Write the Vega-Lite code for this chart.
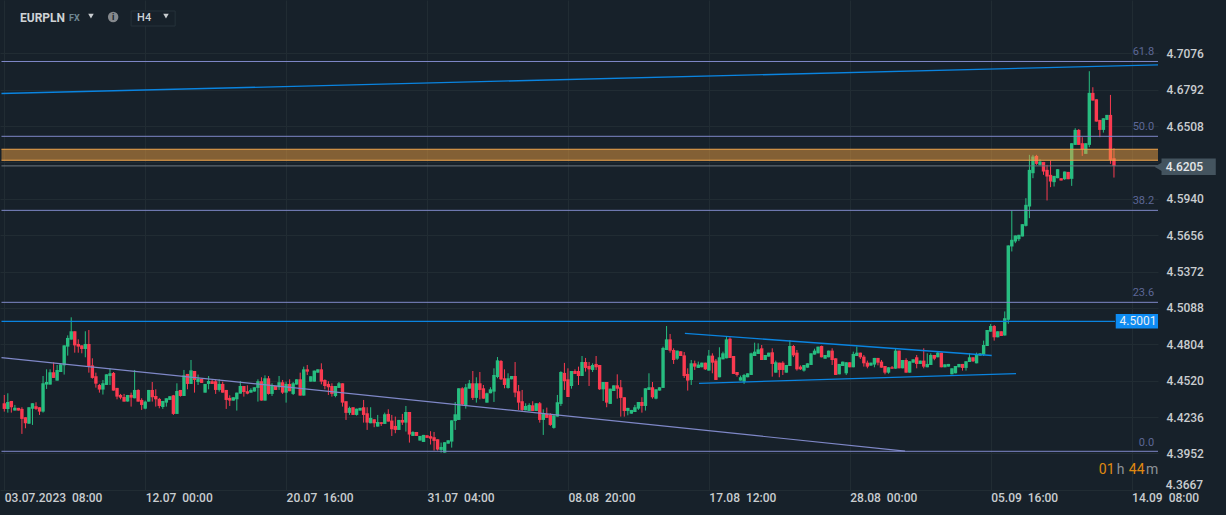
{"$schema":"https://vega.github.io/schema/vega-lite/v6.json","width":1158,"height":490,"padding":{"left":0,"top":0,"right":68,"bottom":25},"autosize":{"type":"none"},"background":"#17212a","config":{"view":{"stroke":null},"font":"Roboto"},
"datasets":{"candles":[
{"i":0,"o":4.4344,"h":4.4409,"l":4.4279,"c":4.43},{"i":1,"o":4.43,"h":4.4422,"l":4.4271,"c":4.4354},{"i":2,"o":4.4362,"h":4.4362,"l":4.4271,"c":4.4313},{"i":3,"o":4.4287,"h":4.4331,"l":4.4287,"c":4.431},{"i":4,"o":4.4308,"h":4.4308,"l":4.4287,"c":4.4287},{"i":5,"o":4.43,"h":4.4313,"l":4.4105,"c":4.4222},{"i":6,"o":4.4235,"h":4.4235,"l":4.4149,"c":4.4188},{"i":7,"o":4.4185,"h":4.4313,"l":4.4183,"c":4.4313},{"i":8,"o":4.4302,"h":4.4344,"l":4.4175,"c":4.4344},{"i":9,"o":4.4321,"h":4.4352,"l":4.4292,"c":4.43},
{"i":10,"o":4.4313,"h":4.4313,"l":4.4253,"c":4.4279},{"i":11,"o":4.4279,"h":4.4557,"l":4.4271,"c":4.45},{"i":12,"o":4.449,"h":4.4609,"l":4.4456,"c":4.451},{"i":13,"o":4.449,"h":4.4609,"l":4.449,"c":4.4586},{"i":14,"o":4.4586,"h":4.4664,"l":4.4542,"c":4.4542},{"i":15,"o":4.4521,"h":4.4643,"l":4.4521,"c":4.4604},{"i":16,"o":4.4588,"h":4.4656,"l":4.4588,"c":4.4648},{"i":17,"o":4.464,"h":4.4796,"l":4.4568,"c":4.4796},{"i":18,"o":4.4786,"h":4.4874,"l":4.4716,"c":4.4854},{"i":19,"o":4.4841,"h":4.5015,"l":4.4841,"c":4.4906},
{"i":20,"o":4.4906,"h":4.4906,"l":4.4739,"c":4.4796},{"i":21,"o":4.4807,"h":4.4843,"l":4.4739,"c":4.4786},{"i":22,"o":4.4796,"h":4.4796,"l":4.4734,"c":4.4768},{"i":23,"o":4.4768,"h":4.4906,"l":4.4703,"c":4.4807},{"i":24,"o":4.4807,"h":4.4916,"l":4.4583,"c":4.4635},{"i":25,"o":4.464,"h":4.4695,"l":4.4536,"c":4.4542},{"i":26,"o":4.4555,"h":4.4583,"l":4.4466,"c":4.4497},{"i":27,"o":4.4487,"h":4.4495,"l":4.4427,"c":4.4451},{"i":28,"o":4.4451,"h":4.4526,"l":4.4412,"c":4.45},{"i":29,"o":4.4487,"h":4.457,"l":4.4487,"c":4.457},
{"i":30,"o":4.4557,"h":4.4617,"l":4.4487,"c":4.4578},{"i":31,"o":4.4581,"h":4.4588,"l":4.4443,"c":4.4443},{"i":32,"o":4.4464,"h":4.4464,"l":4.4375,"c":4.4396},{"i":33,"o":4.4409,"h":4.4417,"l":4.4375,"c":4.4388},{"i":34,"o":4.4393,"h":4.4417,"l":4.4357,"c":4.4357},{"i":35,"o":4.4357,"h":4.4409,"l":4.4357,"c":4.4409},{"i":36,"o":4.4409,"h":4.4427,"l":4.4318,"c":4.4388},{"i":37,"o":4.4383,"h":4.4604,"l":4.4383,"c":4.4448},{"i":38,"o":4.4448,"h":4.4453,"l":4.4357,"c":4.4357},{"i":39,"o":4.437,"h":4.4383,"l":4.4292,"c":4.4331},
{"i":40,"o":4.4302,"h":4.4365,"l":4.4297,"c":4.4357},{"i":41,"o":4.4357,"h":4.4448,"l":4.4357,"c":4.4448},{"i":42,"o":4.4448,"h":4.451,"l":4.4357,"c":4.4391},{"i":43,"o":4.4401,"h":4.4453,"l":4.4318,"c":4.4375},{"i":44,"o":4.4378,"h":4.4386,"l":4.4305,"c":4.4323},{"i":45,"o":4.4315,"h":4.4362,"l":4.43,"c":4.4362},{"i":46,"o":4.4349,"h":4.4383,"l":4.4318,"c":4.4383},{"i":47,"o":4.437,"h":4.4399,"l":4.437,"c":4.4399},{"i":48,"o":4.4406,"h":4.4409,"l":4.4253,"c":4.4261},{"i":49,"o":4.4261,"h":4.45,"l":4.4261,"c":4.444},
{"i":50,"o":4.4448,"h":4.4448,"l":4.4396,"c":4.4401},{"i":51,"o":4.4401,"h":4.4604,"l":4.4401,"c":4.4562},{"i":52,"o":4.4573,"h":4.4573,"l":4.4453,"c":4.4495},{"i":53,"o":4.4495,"h":4.4682,"l":4.4495,"c":4.4601},{"i":54,"o":4.4596,"h":4.4596,"l":4.4427,"c":4.4526},{"i":55,"o":4.451,"h":4.4568,"l":4.4487,"c":4.4536},{"i":56,"o":4.4534,"h":4.4534,"l":4.4503,"c":4.4503},{"i":57,"o":4.4427,"h":4.4495,"l":4.4427,"c":4.4495},{"i":58,"o":4.4495,"h":4.4557,"l":4.4453,"c":4.4518},{"i":59,"o":4.4516,"h":4.4526,"l":4.4495,"c":4.4495},
{"i":60,"o":4.4516,"h":4.4531,"l":4.4417,"c":4.4448},{"i":61,"o":4.4448,"h":4.4531,"l":4.4435,"c":4.4495},{"i":62,"o":4.4495,"h":4.4513,"l":4.4427,"c":4.4427},{"i":63,"o":4.4448,"h":4.4448,"l":4.43,"c":4.437},{"i":64,"o":4.4386,"h":4.4406,"l":4.4323,"c":4.4365},{"i":65,"o":4.4365,"h":4.4391,"l":4.4365,"c":4.4391},{"i":66,"o":4.4375,"h":4.4427,"l":4.4287,"c":4.4427},{"i":67,"o":4.4419,"h":4.4518,"l":4.4419,"c":4.4479},{"i":68,"o":4.4479,"h":4.4479,"l":4.4396,"c":4.4432},{"i":69,"o":4.4438,"h":4.4484,"l":4.4414,"c":4.4419},
{"i":70,"o":4.4427,"h":4.4461,"l":4.4427,"c":4.4448},{"i":71,"o":4.4435,"h":4.4469,"l":4.4435,"c":4.4469},{"i":72,"o":4.4464,"h":4.4531,"l":4.4357,"c":4.4516},{"i":73,"o":4.4516,"h":4.4547,"l":4.4365,"c":4.4365},{"i":74,"o":4.4365,"h":4.4562,"l":4.4365,"c":4.4539},{"i":75,"o":4.4539,"h":4.4557,"l":4.4412,"c":4.4417},{"i":76,"o":4.4417,"h":4.45,"l":4.4401,"c":4.4484},{"i":77,"o":4.4479,"h":4.4479,"l":4.4448,"c":4.4448},{"i":78,"o":4.4469,"h":4.4557,"l":4.4448,"c":4.4508},{"i":79,"o":4.4508,"h":4.4526,"l":4.4417,"c":4.4427},
{"i":80,"o":4.4427,"h":4.4513,"l":4.4349,"c":4.4495},{"i":81,"o":4.4495,"h":4.4531,"l":4.4438,"c":4.4438},{"i":82,"o":4.4417,"h":4.451,"l":4.4409,"c":4.45},{"i":83,"o":4.449,"h":4.4531,"l":4.449,"c":4.4531},{"i":84,"o":4.4531,"h":4.4583,"l":4.4404,"c":4.4404},{"i":85,"o":4.4404,"h":4.463,"l":4.4404,"c":4.4609},{"i":86,"o":4.4609,"h":4.4643,"l":4.4565,"c":4.4591},{"i":87,"o":4.4513,"h":4.4555,"l":4.4513,"c":4.4555},{"i":88,"o":4.4513,"h":4.4599,"l":4.4513,"c":4.4599},{"i":89,"o":4.4583,"h":4.4609,"l":4.4583,"c":4.4609},
{"i":90,"o":4.4609,"h":4.4656,"l":4.4492,"c":4.4513},{"i":91,"o":4.4526,"h":4.4531,"l":4.4453,"c":4.4479},{"i":92,"o":4.4495,"h":4.4516,"l":4.4409,"c":4.4469},{"i":93,"o":4.4479,"h":4.45,"l":4.4396,"c":4.4417},{"i":94,"o":4.4401,"h":4.4479,"l":4.4391,"c":4.4479},{"i":95,"o":4.4464,"h":4.451,"l":4.4464,"c":4.45},{"i":96,"o":4.45,"h":4.45,"l":4.4318,"c":4.4349},{"i":97,"o":4.436,"h":4.436,"l":4.4214,"c":4.4269},{"i":98,"o":4.4269,"h":4.4318,"l":4.4253,"c":4.4308},{"i":99,"o":4.4313,"h":4.4313,"l":4.4253,"c":4.4253},
{"i":100,"o":4.4253,"h":4.4302,"l":4.4248,"c":4.4302},{"i":101,"o":4.4287,"h":4.4308,"l":4.4287,"c":4.4308},{"i":102,"o":4.4313,"h":4.437,"l":4.4193,"c":4.4253},{"i":103,"o":4.4266,"h":4.4313,"l":4.4136,"c":4.4193},{"i":104,"o":4.4188,"h":4.4313,"l":4.4188,"c":4.423},{"i":105,"o":4.4219,"h":4.4219,"l":4.4157,"c":4.4188},{"i":106,"o":4.4162,"h":4.4253,"l":4.4162,"c":4.4198},{"i":107,"o":4.4196,"h":4.4196,"l":4.4167,"c":4.4183},{"i":108,"o":4.4183,"h":4.4271,"l":4.4183,"c":4.4258},{"i":109,"o":4.4261,"h":4.4297,"l":4.4201,"c":4.4201},
{"i":110,"o":4.4209,"h":4.4253,"l":4.4089,"c":4.4141},{"i":111,"o":4.4167,"h":4.424,"l":4.411,"c":4.4136},{"i":112,"o":4.4136,"h":4.4214,"l":4.4136,"c":4.4214},{"i":113,"o":4.4214,"h":4.4261,"l":4.4175,"c":4.4193},{"i":114,"o":4.4193,"h":4.4323,"l":4.4123,"c":4.4276},{"i":115,"o":4.4276,"h":4.4276,"l":4.4037,"c":4.41},{"i":116,"o":4.4089,"h":4.4126,"l":4.4089,"c":4.412},{"i":117,"o":4.412,"h":4.412,"l":4.4089,"c":4.4089},{"i":118,"o":4.4053,"h":4.4089,"l":4.4053,"c":4.4089},{"i":119,"o":4.4042,"h":4.4097,"l":4.4042,"c":4.4097},
{"i":120,"o":4.4094,"h":4.4094,"l":4.4074,"c":4.4074},{"i":121,"o":4.4087,"h":4.4126,"l":4.4022,"c":4.4068},{"i":122,"o":4.4079,"h":4.412,"l":4.3975,"c":4.405},{"i":123,"o":4.4063,"h":4.4063,"l":4.3975,"c":4.3983},{"i":124,"o":4.398,"h":4.4037,"l":4.3959,"c":4.4003},{"i":125,"o":4.3959,"h":4.404,"l":4.3959,"c":4.404},{"i":126,"o":4.4029,"h":4.4055,"l":4.4029,"c":4.4055},{"i":127,"o":4.4045,"h":4.4211,"l":4.3998,"c":4.4211},{"i":128,"o":4.4206,"h":4.4354,"l":4.4136,"c":4.4258},{"i":129,"o":4.4214,"h":4.4461,"l":4.4214,"c":4.4461},
{"i":130,"o":4.4461,"h":4.4469,"l":4.4326,"c":4.4334},{"i":131,"o":4.4328,"h":4.4495,"l":4.4302,"c":4.4469},{"i":132,"o":4.4458,"h":4.4526,"l":4.4458,"c":4.45},{"i":133,"o":4.45,"h":4.4596,"l":4.437,"c":4.4386},{"i":134,"o":4.4386,"h":4.4547,"l":4.4349,"c":4.45},{"i":135,"o":4.45,"h":4.4588,"l":4.4375,"c":4.4448},{"i":136,"o":4.4461,"h":4.4487,"l":4.438,"c":4.438},{"i":137,"o":4.4349,"h":4.4427,"l":4.4349,"c":4.4422},{"i":138,"o":4.4422,"h":4.4469,"l":4.4422,"c":4.4453},{"i":139,"o":4.4435,"h":4.4617,"l":4.4354,"c":4.4565},
{"i":140,"o":4.4549,"h":4.4705,"l":4.4539,"c":4.4679},{"i":141,"o":4.4674,"h":4.4682,"l":4.4526,"c":4.4531},{"i":142,"o":4.4539,"h":4.4609,"l":4.4461,"c":4.4487},{"i":143,"o":4.4464,"h":4.4578,"l":4.4458,"c":4.4539},{"i":144,"o":4.4531,"h":4.4557,"l":4.4531,"c":4.4557},{"i":145,"o":4.4557,"h":4.4666,"l":4.4391,"c":4.4427},{"i":146,"o":4.4438,"h":4.4487,"l":4.4292,"c":4.4349},{"i":147,"o":4.436,"h":4.4448,"l":4.4279,"c":4.4292},{"i":148,"o":4.4289,"h":4.4344,"l":4.4289,"c":4.4323},{"i":149,"o":4.4284,"h":4.4344,"l":4.4284,"c":4.4331},
{"i":150,"o":4.4328,"h":4.436,"l":4.4284,"c":4.4284},{"i":151,"o":4.4284,"h":4.4344,"l":4.4284,"c":4.4344},{"i":152,"o":4.4344,"h":4.4354,"l":4.4193,"c":4.4214},{"i":153,"o":4.4214,"h":4.4297,"l":4.4097,"c":4.4266},{"i":154,"o":4.4261,"h":4.431,"l":4.423,"c":4.423},{"i":155,"o":4.4253,"h":4.4266,"l":4.4167,"c":4.4175},{"i":156,"o":4.4152,"h":4.425,"l":4.4146,"c":4.425},{"i":157,"o":4.424,"h":4.4409,"l":4.424,"c":4.4352},{"i":158,"o":4.4339,"h":4.4594,"l":4.4323,"c":4.4588},{"i":159,"o":4.4581,"h":4.4659,"l":4.4448,"c":4.4516},
{"i":160,"o":4.4531,"h":4.4617,"l":4.4393,"c":4.4393},{"i":161,"o":4.4479,"h":4.4596,"l":4.4458,"c":4.4596},{"i":162,"o":4.4596,"h":4.4609,"l":4.4573,"c":4.4573},{"i":163,"o":4.4596,"h":4.463,"l":4.4487,"c":4.4557},{"i":164,"o":4.4557,"h":4.4713,"l":4.4557,"c":4.4666},{"i":165,"o":4.4666,"h":4.4698,"l":4.4591,"c":4.462},{"i":166,"o":4.4635,"h":4.4666,"l":4.4479,"c":4.4609},{"i":167,"o":4.4604,"h":4.4656,"l":4.4588,"c":4.4643},{"i":168,"o":4.4651,"h":4.4713,"l":4.4604,"c":4.4625},{"i":169,"o":4.4643,"h":4.4643,"l":4.4448,"c":4.4453},
{"i":170,"o":4.4453,"h":4.451,"l":4.4362,"c":4.451},{"i":171,"o":4.451,"h":4.451,"l":4.4313,"c":4.4349},{"i":172,"o":4.4339,"h":4.4458,"l":4.4339,"c":4.4458},{"i":173,"o":4.444,"h":4.4484,"l":4.444,"c":4.4484},{"i":174,"o":4.4484,"h":4.457,"l":4.438,"c":4.4458},{"i":175,"o":4.4469,"h":4.4526,"l":4.424,"c":4.4386},{"i":176,"o":4.4391,"h":4.4391,"l":4.424,"c":4.4284},{"i":177,"o":4.4284,"h":4.4308,"l":4.425,"c":4.4308},{"i":178,"o":4.4263,"h":4.4292,"l":4.4263,"c":4.4292},{"i":179,"o":4.4276,"h":4.4331,"l":4.4276,"c":4.4313},
{"i":180,"o":4.4302,"h":4.4354,"l":4.4292,"c":4.4354},{"i":181,"o":4.4354,"h":4.4391,"l":4.4271,"c":4.4323},{"i":182,"o":4.4323,"h":4.4461,"l":4.4287,"c":4.4461},{"i":183,"o":4.4448,"h":4.4578,"l":4.4448,"c":4.4469},{"i":184,"o":4.4469,"h":4.451,"l":4.438,"c":4.4391},{"i":185,"o":4.438,"h":4.4453,"l":4.4375,"c":4.4453},{"i":186,"o":4.4443,"h":4.4469,"l":4.4443,"c":4.4469},{"i":187,"o":4.4464,"h":4.4786,"l":4.4464,"c":4.4776},{"i":188,"o":4.476,"h":4.4947,"l":4.476,"c":4.4843},{"i":189,"o":4.4843,"h":4.4885,"l":4.4739,"c":4.4755},
{"i":190,"o":4.476,"h":4.4773,"l":4.4651,"c":4.4682},{"i":191,"o":4.4692,"h":4.4755,"l":4.4682,"c":4.4755},{"i":192,"o":4.475,"h":4.475,"l":4.4713,"c":4.4713},{"i":193,"o":4.4718,"h":4.4744,"l":4.4542,"c":4.4557},{"i":194,"o":4.4573,"h":4.4617,"l":4.4443,"c":4.4521},{"i":195,"o":4.4526,"h":4.4682,"l":4.4487,"c":4.4656},{"i":196,"o":4.4656,"h":4.4677,"l":4.4604,"c":4.463},{"i":197,"o":4.462,"h":4.4669,"l":4.462,"c":4.4646},{"i":198,"o":4.4625,"h":4.4661,"l":4.4625,"c":4.4661},{"i":199,"o":4.4661,"h":4.4661,"l":4.4604,"c":4.4609},
{"i":200,"o":4.4599,"h":4.476,"l":4.4599,"c":4.4716},{"i":201,"o":4.4716,"h":4.4734,"l":4.4578,"c":4.4661},{"i":202,"o":4.4677,"h":4.469,"l":4.4526,"c":4.4526},{"i":203,"o":4.4547,"h":4.4781,"l":4.4547,"c":4.4703},{"i":204,"o":4.4687,"h":4.4747,"l":4.4687,"c":4.4734},{"i":205,"o":4.4695,"h":4.4869,"l":4.4695,"c":4.4843},{"i":206,"o":4.4848,"h":4.4859,"l":4.4698,"c":4.4698},{"i":207,"o":4.4713,"h":4.4713,"l":4.4573,"c":4.4573},{"i":208,"o":4.4588,"h":4.4588,"l":4.4552,"c":4.4565},{"i":209,"o":4.4521,"h":4.456,"l":4.4521,"c":4.4547},
{"i":210,"o":4.4513,"h":4.4573,"l":4.4495,"c":4.4565},{"i":211,"o":4.4547,"h":4.4578,"l":4.4547,"c":4.4578},{"i":212,"o":4.4565,"h":4.4739,"l":4.4565,"c":4.4734},{"i":213,"o":4.4713,"h":4.4817,"l":4.4713,"c":4.4747},{"i":214,"o":4.4729,"h":4.4812,"l":4.4729,"c":4.4765},{"i":215,"o":4.4773,"h":4.4799,"l":4.4682,"c":4.4682},{"i":216,"o":4.4682,"h":4.4721,"l":4.4682,"c":4.4721},{"i":217,"o":4.4708,"h":4.4739,"l":4.4708,"c":4.4739},{"i":218,"o":4.4742,"h":4.4773,"l":4.4552,"c":4.4651},{"i":219,"o":4.4583,"h":4.4677,"l":4.4583,"c":4.4664},
{"i":220,"o":4.4661,"h":4.4661,"l":4.4547,"c":4.4604},{"i":221,"o":4.4661,"h":4.4672,"l":4.4565,"c":4.4604},{"i":222,"o":4.4583,"h":4.4643,"l":4.4583,"c":4.4643},{"i":223,"o":4.4635,"h":4.4838,"l":4.4635,"c":4.4791},{"i":224,"o":4.4791,"h":4.4799,"l":4.4705,"c":4.4718},{"i":225,"o":4.4739,"h":4.476,"l":4.4599,"c":4.4609},{"i":226,"o":4.463,"h":4.464,"l":4.4604,"c":4.4609},{"i":227,"o":4.4599,"h":4.4643,"l":4.4591,"c":4.4643},{"i":228,"o":4.4622,"h":4.4656,"l":4.4622,"c":4.4656},{"i":229,"o":4.4643,"h":4.4734,"l":4.4643,"c":4.4734},
{"i":230,"o":4.4724,"h":4.477,"l":4.4724,"c":4.4755},{"i":231,"o":4.4734,"h":4.4786,"l":4.4734,"c":4.4786},{"i":232,"o":4.4791,"h":4.4794,"l":4.4703,"c":4.4703},{"i":233,"o":4.4692,"h":4.4721,"l":4.4692,"c":4.4721},{"i":234,"o":4.4703,"h":4.4755,"l":4.4703,"c":4.4755},{"i":235,"o":4.4755,"h":4.4773,"l":4.4643,"c":4.4682},{"i":236,"o":4.4695,"h":4.4695,"l":4.4565,"c":4.4565},{"i":237,"o":4.457,"h":4.4651,"l":4.457,"c":4.4651},{"i":238,"o":4.4635,"h":4.4669,"l":4.4635,"c":4.4669},{"i":239,"o":4.4578,"h":4.4664,"l":4.4565,"c":4.4664},
{"i":240,"o":4.4664,"h":4.4664,"l":4.4625,"c":4.4625},{"i":241,"o":4.4625,"h":4.4747,"l":4.4625,"c":4.4729},{"i":242,"o":4.4713,"h":4.4786,"l":4.4713,"c":4.4739},{"i":243,"o":4.4739,"h":4.4739,"l":4.469,"c":4.4703},{"i":244,"o":4.4708,"h":4.4721,"l":4.463,"c":4.4656},{"i":245,"o":4.4661,"h":4.4677,"l":4.4617,"c":4.463},{"i":246,"o":4.4638,"h":4.4661,"l":4.4638,"c":4.4661},{"i":247,"o":4.4646,"h":4.4698,"l":4.4625,"c":4.4698},{"i":248,"o":4.4698,"h":4.4698,"l":4.464,"c":4.4661},{"i":249,"o":4.4669,"h":4.4682,"l":4.4622,"c":4.4622},
{"i":250,"o":4.4635,"h":4.4635,"l":4.457,"c":4.4583},{"i":251,"o":4.4583,"h":4.4625,"l":4.4575,"c":4.4625},{"i":252,"o":4.4625,"h":4.4635,"l":4.4614,"c":4.4614},{"i":253,"o":4.4614,"h":4.4773,"l":4.4614,"c":4.4755},{"i":254,"o":4.4755,"h":4.4755,"l":4.4617,"c":4.4617},{"i":255,"o":4.4617,"h":4.4682,"l":4.4617,"c":4.4682},{"i":256,"o":4.4682,"h":4.4695,"l":4.4583,"c":4.4583},{"i":257,"o":4.4583,"h":4.4672,"l":4.4583,"c":4.4672},{"i":258,"o":4.4661,"h":4.4687,"l":4.4661,"c":4.4687},{"i":259,"o":4.4703,"h":4.4721,"l":4.4617,"c":4.4651},
{"i":260,"o":4.4651,"h":4.4677,"l":4.4651,"c":4.4677},{"i":261,"o":4.4677,"h":4.4773,"l":4.4617,"c":4.463},{"i":262,"o":4.4625,"h":4.4734,"l":4.4625,"c":4.4651},{"i":263,"o":4.4643,"h":4.4734,"l":4.4643,"c":4.4721},{"i":264,"o":4.4721,"h":4.4721,"l":4.468,"c":4.4692},{"i":265,"o":4.4703,"h":4.4747,"l":4.4703,"c":4.4739},{"i":266,"o":4.4739,"h":4.4739,"l":4.4625,"c":4.4625},{"i":267,"o":4.4625,"h":4.4648,"l":4.4625,"c":4.4648},{"i":268,"o":4.463,"h":4.4651,"l":4.463,"c":4.4651},{"i":269,"o":4.457,"h":4.4617,"l":4.457,"c":4.4617},
{"i":270,"o":4.4578,"h":4.4635,"l":4.4578,"c":4.4635},{"i":271,"o":4.4625,"h":4.4651,"l":4.4625,"c":4.4651},{"i":272,"o":4.4651,"h":4.4651,"l":4.4599,"c":4.462},{"i":273,"o":4.462,"h":4.4672,"l":4.4599,"c":4.4672},{"i":274,"o":4.4666,"h":4.4734,"l":4.4666,"c":4.4703},{"i":275,"o":4.4703,"h":4.4703,"l":4.4666,"c":4.4672},{"i":276,"o":4.4656,"h":4.4739,"l":4.4656,"c":4.4724},{"i":277,"o":4.4716,"h":4.4734,"l":4.4716,"c":4.4734},{"i":278,"o":4.4724,"h":4.4833,"l":4.4713,"c":4.4799},{"i":279,"o":4.4791,"h":4.4916,"l":4.4791,"c":4.4916},
{"i":280,"o":4.4903,"h":4.4963,"l":4.4903,"c":4.4947},{"i":281,"o":4.4947,"h":4.4955,"l":4.4833,"c":4.4859},{"i":282,"o":4.4859,"h":4.4906,"l":4.4859,"c":4.4906},{"i":283,"o":4.4906,"h":4.4906,"l":4.4869,"c":4.4869},{"i":284,"o":4.4873,"h":4.5061,"l":4.4873,"c":4.5008},{"i":285,"o":4.4996,"h":4.5576,"l":4.4965,"c":4.5576},{"i":286,"o":4.5568,"h":4.5849,"l":4.5529,"c":4.562},{"i":287,"o":4.5607,"h":4.5654,"l":4.5594,"c":4.5654},{"i":288,"o":4.5625,"h":4.5659,"l":4.561,"c":4.5659},{"i":289,"o":4.5646,"h":4.5742,"l":4.5646,"c":4.5742},
{"i":290,"o":4.5729,"h":4.5945,"l":4.5724,"c":4.5893},{"i":291,"o":4.588,"h":4.6283,"l":4.5789,"c":4.6166},{"i":292,"o":4.614,"h":4.6283,"l":4.6101,"c":4.627},{"i":293,"o":4.6275,"h":4.6283,"l":4.6205,"c":4.6213},{"i":294,"o":4.6205,"h":4.6249,"l":4.62,"c":4.6231},{"i":295,"o":4.6228,"h":4.6228,"l":4.6127,"c":4.6153},{"i":296,"o":4.6166,"h":4.6205,"l":4.5927,"c":4.6114},{"i":297,"o":4.6127,"h":4.6239,"l":4.6031,"c":4.6075},{"i":298,"o":4.607,"h":4.6119,"l":4.6036,"c":4.6119},{"i":299,"o":4.6101,"h":4.6171,"l":4.6101,"c":4.6171},
{"i":300,"o":4.6101,"h":4.6101,"l":4.6083,"c":4.6083},{"i":301,"o":4.6093,"h":4.6153,"l":4.6088,"c":4.6153},{"i":302,"o":4.615,"h":4.615,"l":4.6093,"c":4.6093},{"i":303,"o":4.6096,"h":4.6374,"l":4.6041,"c":4.6374},{"i":304,"o":4.6361,"h":4.6491,"l":4.6361,"c":4.6478},{"i":305,"o":4.6478,"h":4.6484,"l":4.6361,"c":4.6361},{"i":306,"o":4.6374,"h":4.6421,"l":4.6275,"c":4.6327},{"i":307,"o":4.6291,"h":4.6374,"l":4.6291,"c":4.6374},{"i":308,"o":4.6361,"h":4.6936,"l":4.6343,"c":4.6767},{"i":309,"o":4.6767,"h":4.6811,"l":4.6707,"c":4.6707},
{"i":310,"o":4.6717,"h":4.6717,"l":4.6543,"c":4.6543},{"i":311,"o":4.6556,"h":4.6556,"l":4.6421,"c":4.6478},{"i":312,"o":4.6478,"h":4.6569,"l":4.6457,"c":4.6569},{"i":313,"o":4.6556,"h":4.6595,"l":4.6556,"c":4.6595},{"i":314,"o":4.6595,"h":4.6751,"l":4.6213,"c":4.6244},{"i":315,"o":4.6257,"h":4.6335,"l":4.6106,"c":4.6197}
]},
"encoding":{"x":{"field":"i","type":"quantitative","scale":{"domain":[-1.22,327.5],"nice":false,"zero":false,"padding":0},"axis":{"values":[0,40,80,120,160,200,240,280,320],"title":null,"domain":false,"ticks":false,"grid":true,"gridColor":"#212c33","gridWidth":1,"labelAlign":"left","labelBaseline":"top","labelPadding":2,"labelColor":"#c9cdd0","labelFont":"Roboto","labelFontSize":12,"labelFontWeight":500,"labelOverlap":false,"labelFlush":false,"labelBound":false,"labelExpr":"['03.07.2023\u00a0\u00a008:00','12.07\u00a0\u00a000:00','20.07\u00a0\u00a016:00','31.07\u00a0\u00a004:00','08.08\u00a0\u00a020:00','17.08\u00a0\u00a012:00','28.08\u00a0\u00a000:00','05.09\u00a0\u00a016:00','14.09\u00a0\u00a008:00'][datum.value/40]"}}},
"layer":[
{"data":{"name":"candles"},"mark":{"type":"rule","strokeWidth":1},"encoding":{"y":{"field":"h","type":"quantitative","scale":{"domain":[4.3667,4.7492],"nice":false,"zero":false,"padding":0},"axis":{"orient":"right","values":[4.7076,4.6792,4.6508,4.6224,4.594,4.5656,4.5372,4.5088,4.4804,4.452,4.4236,4.3952,4.3667],"title":null,"domain":false,"ticks":false,"grid":true,"gridColor":"#212c33","gridWidth":1,"labelAlign":"left","labelBaseline":"middle","labelPadding":8,"labelColor":"#c9cdd0","labelFont":"Roboto","labelFontSize":12,"labelFontWeight":500,"labelOverlap":false,"labelBound":false,"labelFlush":false,"labelExpr":"datum.value<4.37||abs(datum.value-4.6224)<0.001?'':format(datum.value,'.4f')"}},"y2":{"field":"l"},"color":{"condition":{"test":"datum.c>=datum.o","value":"#27bd80"},"value":"#fa3a50"}}},
{"data":{"name":"candles"},"mark":{"type":"bar","size":3.4},"encoding":{"y":{"field":"o","type":"quantitative"},"y2":{"field":"c"},"color":{"condition":{"test":"datum.c>=datum.o","value":"#27bd80"},"value":"#fa3a50"}}},
{"data":{"values":[{"i":-0.8,"j":327.5,"a":4.6327,"b":4.6241}]},"mark":{"type":"rect","fill":"#f0a040","opacity":0.5},"encoding":{"x2":{"field":"j"},"y":{"field":"a","type":"quantitative"},"y2":{"field":"b"}}},
{"data":{"values":[{"i":-0.8,"j":327.5,"p":4.6327},{"i":-0.8,"j":327.5,"p":4.6241}]},"mark":{"type":"rule","color":"#efa44c","strokeWidth":1.2},"encoding":{"x2":{"field":"j"},"y":{"field":"p","type":"quantitative"}}},
{"data":{"values":[{"i":-0.8,"j":327.5,"p":4.7012},{"i":-0.8,"j":327.5,"p":4.6428},{"i":-0.8,"j":327.5,"p":4.585},{"i":-0.8,"j":327.5,"p":4.5132},{"i":-0.8,"j":327.5,"p":4.3969}]},"mark":{"type":"rule","color":"#7f88c8","strokeWidth":1},"encoding":{"x2":{"field":"j"},"y":{"field":"p","type":"quantitative"}}},
{"data":{"values":[{"i":-0.8,"j":327.5,"p":4.6197}]},"mark":{"type":"rule","color":"#6c7780","strokeWidth":1},"encoding":{"x2":{"field":"j"},"y":{"field":"p","type":"quantitative"}}},
{"data":{"values":[{"i":-0.8,"j":315.3,"p":4.4984}]},"mark":{"type":"rule","color":"#0a84e0","strokeWidth":1.2},"encoding":{"x2":{"field":"j"},"y":{"field":"p","type":"quantitative"}}},
{"data":{"values":[{"i":-0.8,"p":4.4701},{"i":255.7,"p":4.3971}]},"mark":{"type":"line","color":"#7f88c8","strokeWidth":1.2},"encoding":{"y":{"field":"p","type":"quantitative"}}},
{"data":{"values":[{"i":-0.8,"p":4.6762},{"i":327.5,"p":4.6985}]},"mark":{"type":"line","color":"#0a84e0","strokeWidth":1.3},"encoding":{"y":{"field":"p","type":"quantitative"}}},
{"data":{"values":[{"i":193.2,"p":4.4889},{"i":280.3,"p":4.4717}]},"mark":{"type":"line","color":"#0a84e0","strokeWidth":1.3},"encoding":{"y":{"field":"p","type":"quantitative"}}},
{"data":{"values":[{"i":197.2,"p":4.45},{"i":287.2,"p":4.4576}]},"mark":{"type":"line","color":"#0a84e0","strokeWidth":1.3},"encoding":{"y":{"field":"p","type":"quantitative"}}},
{"data":{"values":[{"i":326.4,"p":4.7086,"t":"61.8"},{"i":326.4,"p":4.6498,"t":"50.0"},{"i":326.4,"p":4.5921,"t":"38.2"},{"i":326.4,"p":4.5202,"t":"23.6"},{"i":326.4,"p":4.4036,"t":"0.0"}]},"mark":{"type":"text","align":"right","baseline":"middle","font":"Roboto","fontSize":11,"color":"#5d6796"},"encoding":{"y":{"field":"p","type":"quantitative"},"text":{"field":"t"}}},
{"data":{"values":[{"i":315.5,"j":327.5,"a":4.5041,"b":4.4927}]},"mark":{"type":"rect","fill":"#0d8bf2"},"encoding":{"x2":{"field":"j"},"y":{"field":"a","type":"quantitative"},"y2":{"field":"b"}}},
{"data":{"values":[{"i":316.6,"p":4.4984,"t":"4.5001"}]},"mark":{"type":"text","align":"left","baseline":"middle","font":"Roboto","fontSize":12,"color":"#e8eef4"},"encoding":{"y":{"field":"p","type":"quantitative"},"text":{"field":"t"}}},
{"data":{"values":[{"i":328.5,"j":343.9,"a":4.6254,"b":4.6126}]},"mark":{"type":"rect","fill":"#44545f"},"encoding":{"x2":{"field":"j"},"y":{"field":"a","type":"quantitative"},"y2":{"field":"b"}}},
{"data":{"values":[{"i":328.0,"p":4.619}]},"mark":{"type":"point","shape":"triangle-left","filled":true,"size":150,"opacity":1,"color":"#44545f"},"encoding":{"y":{"field":"p","type":"quantitative"}}},
{"data":{"values":[{"i":329.7,"p":4.619,"t":"4.6205"}]},"mark":{"type":"text","align":"left","baseline":"middle","font":"Roboto","fontSize":12,"fontWeight":500,"color":"#e4e7e9"},"encoding":{"y":{"field":"p","type":"quantitative"},"text":{"field":"t"}}},
{"data":{"values":[{"i":329.7,"p":4.3706,"t":"4.3667"}]},"mark":{"type":"text","align":"left","baseline":"middle","font":"Roboto","fontSize":12,"fontWeight":500,"color":"#c9cdd0"},"encoding":{"y":{"field":"p","type":"quantitative"},"text":{"field":"t"}}},
{"data":{"values":[{"i":310.7,"p":4.3823,"t":"01"},{"i":319.2,"p":4.3823,"t":"44"}]},"mark":{"type":"text","align":"left","baseline":"middle","font":"Roboto","fontSize":14,"color":"#e08a10"},"encoding":{"y":{"field":"p","type":"quantitative"},"text":{"field":"t"}}},
{"data":{"values":[{"i":315.8,"p":4.3823,"t":"h"},{"i":324.1,"p":4.3823,"t":"m"}]},"mark":{"type":"text","align":"left","baseline":"middle","font":"Roboto","fontSize":14,"color":"#8d9298"},"encoding":{"y":{"field":"p","type":"quantitative"},"text":{"field":"t"}}},
{"data":{"values":[{"i":4.46,"p":4.7351,"t":"EURPLN"}]},"mark":{"type":"text","align":"left","baseline":"middle","font":"Roboto","fontSize":12,"fontWeight":"bold","color":"#cfd3d6"},"encoding":{"y":{"field":"p","type":"quantitative"},"text":{"field":"t"}}},
{"data":{"values":[{"i":18.4,"p":4.7349,"t":"FX"}]},"mark":{"type":"text","align":"left","baseline":"middle","font":"Roboto","fontSize":9,"fontWeight":"bold","color":"#6f8794"},"encoding":{"y":{"field":"p","type":"quantitative"},"text":{"field":"t"}}},
{"data":{"values":[{"i":36,"j":48.5,"a":4.7406,"b":4.7289}]},"mark":{"type":"rect","fill":"#17212a","stroke":"#26323a","strokeWidth":1},"encoding":{"x2":{"field":"j"},"y":{"field":"a","type":"quantitative"},"y2":{"field":"b"}}},
{"data":{"values":[{"i":37.7,"p":4.7349,"t":"H4"}]},"mark":{"type":"text","align":"left","baseline":"middle","font":"Roboto","fontSize":11,"fontWeight":500,"color":"#cfd3d6"},"encoding":{"y":{"field":"p","type":"quantitative"},"text":{"field":"t"}}},
{"data":{"values":[{"i":24.6,"p":4.7367},{"i":45.9,"p":4.7367}]},"mark":{"type":"point","shape":"triangle-down","filled":true,"size":30,"opacity":1,"color":"#c9cdd0"},"encoding":{"y":{"field":"p","type":"quantitative"}}},
{"data":{"values":[{"i":30.9,"p":4.7359}]},"mark":{"type":"point","shape":"circle","filled":true,"size":110,"opacity":1,"color":"#85898d"},"encoding":{"y":{"field":"p","type":"quantitative"}}},
{"data":{"values":[{"i":30.9,"p":4.7359,"t":"i"}]},"mark":{"type":"text","align":"center","baseline":"middle","font":"Roboto","fontSize":9,"fontWeight":"bold","color":"#17212a"},"encoding":{"y":{"field":"p","type":"quantitative"},"text":{"field":"t"}}}
]}
